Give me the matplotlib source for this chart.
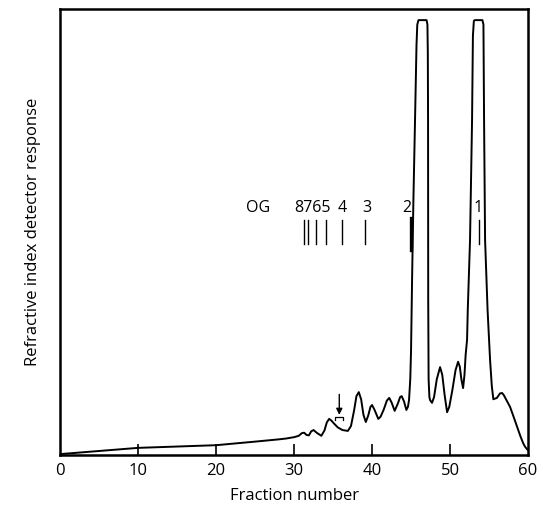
import matplotlib
matplotlib.use('Agg')
import matplotlib.pyplot as plt

plt.rcParams['font.family'] = ['Open Sans', 'DejaVu Sans']

# chromatogram trace (y in % of plot height)
frac_x = [0, 5, 10, 15, 20, 25, 28, 29, 30, 30.6, 31.0, 31.3, 31.6, 31.9,
          32.2, 32.5, 32.9, 33.5, 33.9, 34.2, 34.5, 34.8, 35.1, 35.6, 36.2,
          36.9, 37.3, 37.7, 38.0, 38.3, 38.6, 38.9, 39.2, 39.5, 39.8, 40.0,
          40.3, 40.8, 41.1, 41.5, 41.9, 42.2, 42.5, 42.9, 43.3, 43.6, 43.8,
          44.1, 44.4, 44.6, 44.74, 44.9, 45.0, 45.13, 45.3, 45.51, 45.7,
          45.8, 45.95, 46.99, 47.1, 47.15, 47.18, 47.2, 47.25, 47.35, 47.44,
          47.69, 47.95, 48.3, 48.72, 49.0, 49.3, 49.62, 49.9, 50.3, 50.7,
          51.03, 51.25, 51.45, 51.67, 51.85, 52.0, 52.18, 52.27, 52.56,
          52.82, 52.93, 53.05, 53.15, 54.15, 54.28, 54.36, 54.49, 54.81,
          55.13, 55.35, 55.55, 56.0, 56.4, 56.67, 56.9, 57.2, 57.69, 58.1,
          58.6, 59.0, 59.36, 59.6, 59.87, 60]
response = [0.2, 0.9, 1.6, 1.9, 2.2, 3.0, 3.5, 3.7, 4.0, 4.3, 4.9, 5.0, 4.5,
            4.4, 5.3, 5.6, 5.0, 4.3, 5.5, 7.3, 8.1, 7.7, 7.1, 6.2, 5.6,
            5.4, 6.5, 10.0, 13.2, 14.1, 12.5, 9.0, 7.4, 8.8, 10.8, 11.2,
            10.2, 8.1, 8.6, 10.2, 12.2, 12.8, 11.8, 9.9, 11.5, 13.0, 13.2,
            12.0, 10.1, 10.8, 12.3, 17.0, 23.5, 39.2, 57.0, 75.1, 92.0,
            96.5, 97.5, 97.5, 96.5, 90.0, 75.1, 34.8, 17.0, 13.0, 12.3,
            11.7, 13.0, 17.0, 19.7, 18.0, 13.5, 9.6, 10.8, 14.6, 19.0,
            20.9, 19.8, 17.0, 15.0, 18.0, 22.5, 25.8, 32.5, 48.2,
            75.1, 94.0, 97.3, 97.5, 97.5, 96.5, 75.1, 48.2, 32.5,
            21.3, 15.5, 12.5, 12.8, 13.8, 13.9, 13.4, 12.4, 10.8, 8.8,
            6.3, 4.3, 2.7, 1.9, 1.3, 1.1]

# oligomer markers above the trace
marker_x = [31.28, 31.83, 32.82, 34.10, 36.12, 39.10, 45.0, 53.72]
label_text = ['OG', '8765', '4', '3', '2', '1']
label_x = [25.4, 32.4, 36.2, 39.4, 44.5, 53.6]

fig = plt.figure(figsize=(5.43, 5.16), dpi=100)
ax = fig.add_axes([0.1105, 0.1182, 0.862, 0.8644])

ax.plot(frac_x, response, color='black', lw=1.4, solid_joinstyle='round')

for mx in marker_x:
    if mx == 45.0:
        ax.plot([mx, mx], [46.0, 53.1], color='black', lw=2.4)
    else:
        ax.plot([mx, mx], [47.3, 52.7], color='black', lw=1.0)

for t, lx in zip(label_text, label_x):
    ax.text(lx, 55.4, t, ha='center', va='center', fontsize=11.5)

# arrow and small bracket near fraction 36
ax.annotate('', xy=(35.8, 9.0), xytext=(35.8, 13.6),
            arrowprops=dict(arrowstyle='-|>', color='black', lw=1.0,
                            mutation_scale=9, shrinkA=0, shrinkB=0))
ax.plot([35.3, 35.3, 36.3, 36.3], [7.8, 8.5, 8.5, 7.8], color='black', lw=0.9)

ax.set_xlim(0, 60)
ax.set_ylim(0, 100)
ax.set_xticks([0, 10, 20, 30, 40, 50, 60])
ax.set_yticks([])
ax.tick_params(axis='x', direction='in', length=8, width=1.2, labelsize=12, pad=6)
# no tick marks in the corners
xt = ax.xaxis.get_major_ticks()
for t in (xt[0], xt[-1]):
    t.tick1line.set_visible(False)
for s in ax.spines.values():
    s.set_linewidth(1.8)

ax.set_xlabel('Fraction number', fontsize=12, labelpad=6)
ax.set_ylabel('Refractive index detector response', fontsize=12, labelpad=14)

fig.savefig('out.png', dpi=100)
